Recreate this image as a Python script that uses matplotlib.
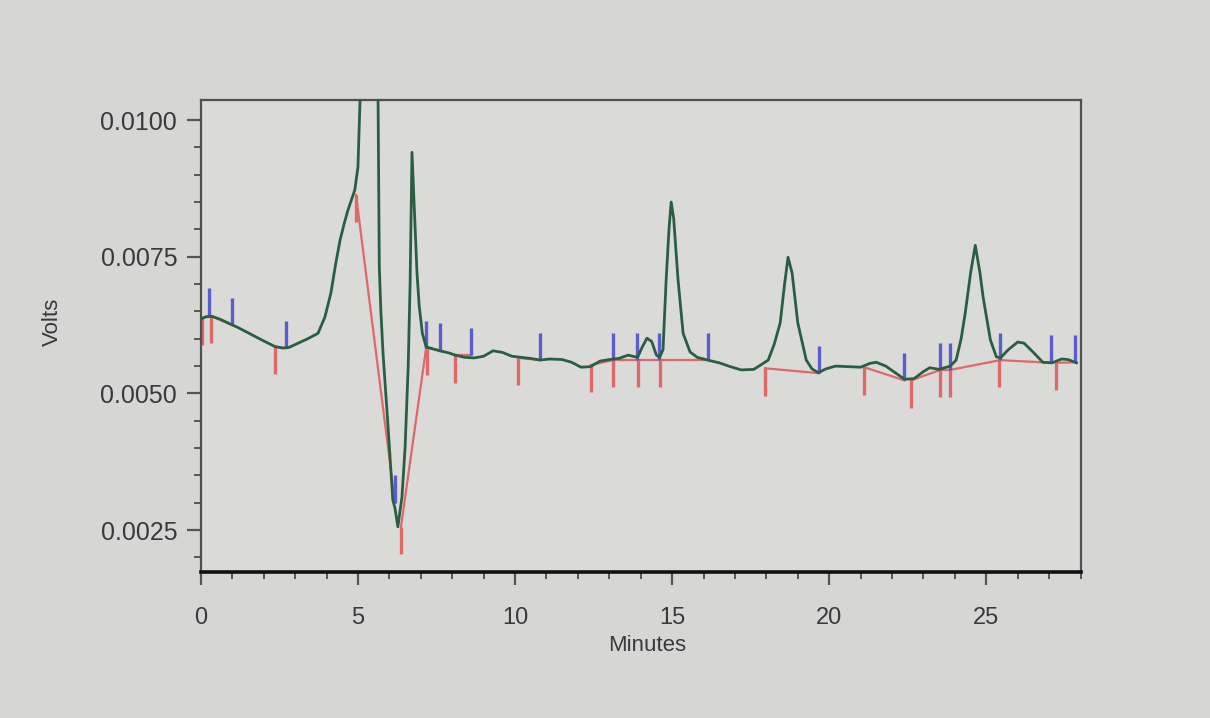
import matplotlib
matplotlib.use("Agg")
import matplotlib.pyplot as plt
from matplotlib.ticker import MultipleLocator, FixedLocator

# detector trace (minutes, volts)
minutes = [0.00, 0.15, 0.35, 0.6, 0.9, 1.2, 1.6, 2.0, 2.35, 2.6, 2.8, 3.1, 3.4, 3.73,
           3.95, 4.14, 4.3, 4.43, 4.55, 4.68, 4.8, 4.9, 5.0, 5.06, 5.15, 5.35, 5.5,
           5.64, 5.68, 5.73, 5.8, 5.96, 6.11, 6.18, 6.27, 6.4, 6.5, 6.6, 6.66, 6.72,
           6.8, 6.88, 6.95, 7.05, 7.17, 7.3, 7.6, 7.9, 8.1, 8.4, 8.7, 9.0, 9.3, 9.6,
           9.9, 10.2, 10.5, 10.8, 11.1, 11.5, 11.8, 12.1, 12.4, 12.7, 13.0, 13.3,
           13.6, 13.9, 14.05, 14.2, 14.35, 14.5, 14.6, 14.71, 14.81, 14.9, 14.97,
           15.05, 15.19, 15.35, 15.57, 15.8, 16.0, 16.2, 16.5, 16.8, 17.2, 17.6,
           18.06, 18.25, 18.44, 18.58, 18.69, 18.82, 19.0, 19.27, 19.45, 19.65, 19.9,
           20.2, 20.6, 21.0, 21.3, 21.5, 21.8, 22.1, 22.4, 22.7, 23.0, 23.2, 23.5,
           23.85, 24.04, 24.2, 24.33, 24.5, 24.65, 24.8, 24.9, 25.13, 25.32, 25.45,
           25.7, 26.0, 26.2, 26.5, 26.8, 27.1, 27.4, 27.6, 27.87]
volts = [0.00636, 0.00640, 0.00641, 0.00636, 0.00628, 0.00620, 0.00608, 0.00596,
         0.00586, 0.00583, 0.00584, 0.00592, 0.00600, 0.00610, 0.00640, 0.00684,
         0.00740, 0.00780, 0.00808, 0.00835, 0.00855, 0.00872, 0.00914, 0.01024,
         0.01150, 0.01250, 0.01200, 0.01040, 0.00731, 0.00650, 0.00572, 0.00438,
         0.00305, 0.00290, 0.00256, 0.00310, 0.00400, 0.00550, 0.00700, 0.00941,
         0.00830, 0.00720, 0.00660, 0.00610, 0.00585, 0.00583, 0.00578, 0.00574,
         0.00570, 0.00566, 0.00565, 0.00568, 0.00578, 0.00575, 0.00568, 0.00566,
         0.00564, 0.00561, 0.00563, 0.00562, 0.00557, 0.00548, 0.00549, 0.00559,
         0.00562, 0.00564, 0.00570, 0.00566, 0.00585, 0.00601, 0.00595, 0.00570,
         0.00566, 0.00580, 0.00707, 0.00800, 0.00850, 0.00820, 0.00707, 0.00610,
         0.00576, 0.00566, 0.00563, 0.00560, 0.00556, 0.00550, 0.00543, 0.00544,
         0.00561, 0.00590, 0.00629, 0.00700, 0.00749, 0.00720, 0.00629, 0.00561,
         0.00545, 0.00538, 0.00545, 0.00550, 0.00549, 0.00548, 0.00555, 0.00557,
         0.00550, 0.00538, 0.00526, 0.00527, 0.00540, 0.00547, 0.00544, 0.00550,
         0.00561, 0.00600, 0.00647, 0.00720, 0.00771, 0.00720, 0.00676, 0.00598,
         0.00567, 0.00565, 0.00580, 0.00594, 0.00592, 0.00575, 0.00557, 0.00556,
         0.00563, 0.00562, 0.00556]

# integration events: baseline start (red) and end (blue) per peak
start_t = [0.03, 0.32, 2.36, 4.94, 6.37, 7.20, 8.09, 10.10, 12.42, 13.12, 13.92,
           14.62, 17.96, 21.11, 22.61, 23.54, 23.85, 25.41, 27.23]
start_v = [0.00638, 0.00642, 0.00585, 0.00863, 0.00256, 0.00583, 0.00570, 0.00565,
           0.00552, 0.00561, 0.00561, 0.00561, 0.00546, 0.00548, 0.00524, 0.00543,
           0.00543, 0.00561, 0.00556]
end_t = [0.25, 0.99, 2.71, 6.18, 7.17, 7.61, 8.60, 10.80, 13.12, 13.89, 14.59,
         16.15, 19.68, 22.39, 23.54, 23.85, 25.45, 27.07, 27.83]
end_v = [0.00642, 0.00625, 0.00583, 0.00300, 0.00583, 0.00579, 0.00570, 0.00561,
         0.00561, 0.00561, 0.00561, 0.00561, 0.00537, 0.00524, 0.00543, 0.00543,
         0.00561, 0.00556, 0.00557]

fig = plt.figure(figsize=(12.1, 7.18), dpi=100, facecolor="#d6d7d5")
ax = fig.add_axes([0.166, 0.203, 0.727, 0.658])
ax.set_facecolor("#dadbd9")

red = "#e06868"
blue = "#5c5ccc"
mark = 0.0005

for t0, v0, t1, v1 in zip(start_t, start_v, end_t, end_v):
    ax.plot([t0, t1], [v0, v1], color=red, linewidth=1.6, zorder=2)
ax.vlines(start_t, [v - mark for v in start_v], start_v, color=red, linewidth=2.4, zorder=2)
ax.vlines(end_t, end_v, [v + mark for v in end_v], color=blue, linewidth=2.4, zorder=2)

ax.plot(minutes, volts, color="#2a5e43", linewidth=2.0, zorder=3)

ax.set_xlim(0, 28)
ax.set_ylim(0.00173, 0.01037)
ax.xaxis.set_major_locator(FixedLocator([0, 5, 10, 15, 20, 25]))
ax.xaxis.set_minor_locator(MultipleLocator(1))
ax.yaxis.set_major_locator(FixedLocator([0.0025, 0.0050, 0.0075, 0.0100]))
ax.yaxis.set_minor_locator(MultipleLocator(0.0005))
ax.set_yticklabels(["0.0025", "0.0050", "0.0075", "0.0100"])

txt = "#3a3a3a"
ax.tick_params(axis="both", which="major", colors="#555555", labelcolor=txt, width=1.6)
ax.tick_params(axis="y", which="major", length=10, pad=7, labelsize=18)
ax.tick_params(axis="y", which="minor", length=5, width=1.4, colors="#555555")
ax.tick_params(axis="x", which="major", length=9, pad=16, labelsize=17)
ax.tick_params(axis="x", which="minor", length=5, width=1.4, colors="#555555")
for lab in ax.get_xticklabels() + ax.get_yticklabels():
    lab.set_family("Liberation Sans")

ax.set_xlabel("Minutes", fontsize=16, color=txt, family="Liberation Sans")
ax.set_ylabel("Volts", fontsize=16, color=txt, family="Liberation Sans")
ax.xaxis.set_label_coords(0.507, -0.133)
ax.yaxis.set_label_coords(-0.157, 0.53)

for side in ["left", "top", "right"]:
    ax.spines[side].set_color("#505050")
    ax.spines[side].set_linewidth(1.6)
ax.spines["bottom"].set_color("#111111")
ax.spines["bottom"].set_linewidth(2.6)

plt.savefig("out.png", dpi=100, facecolor=fig.get_facecolor())
